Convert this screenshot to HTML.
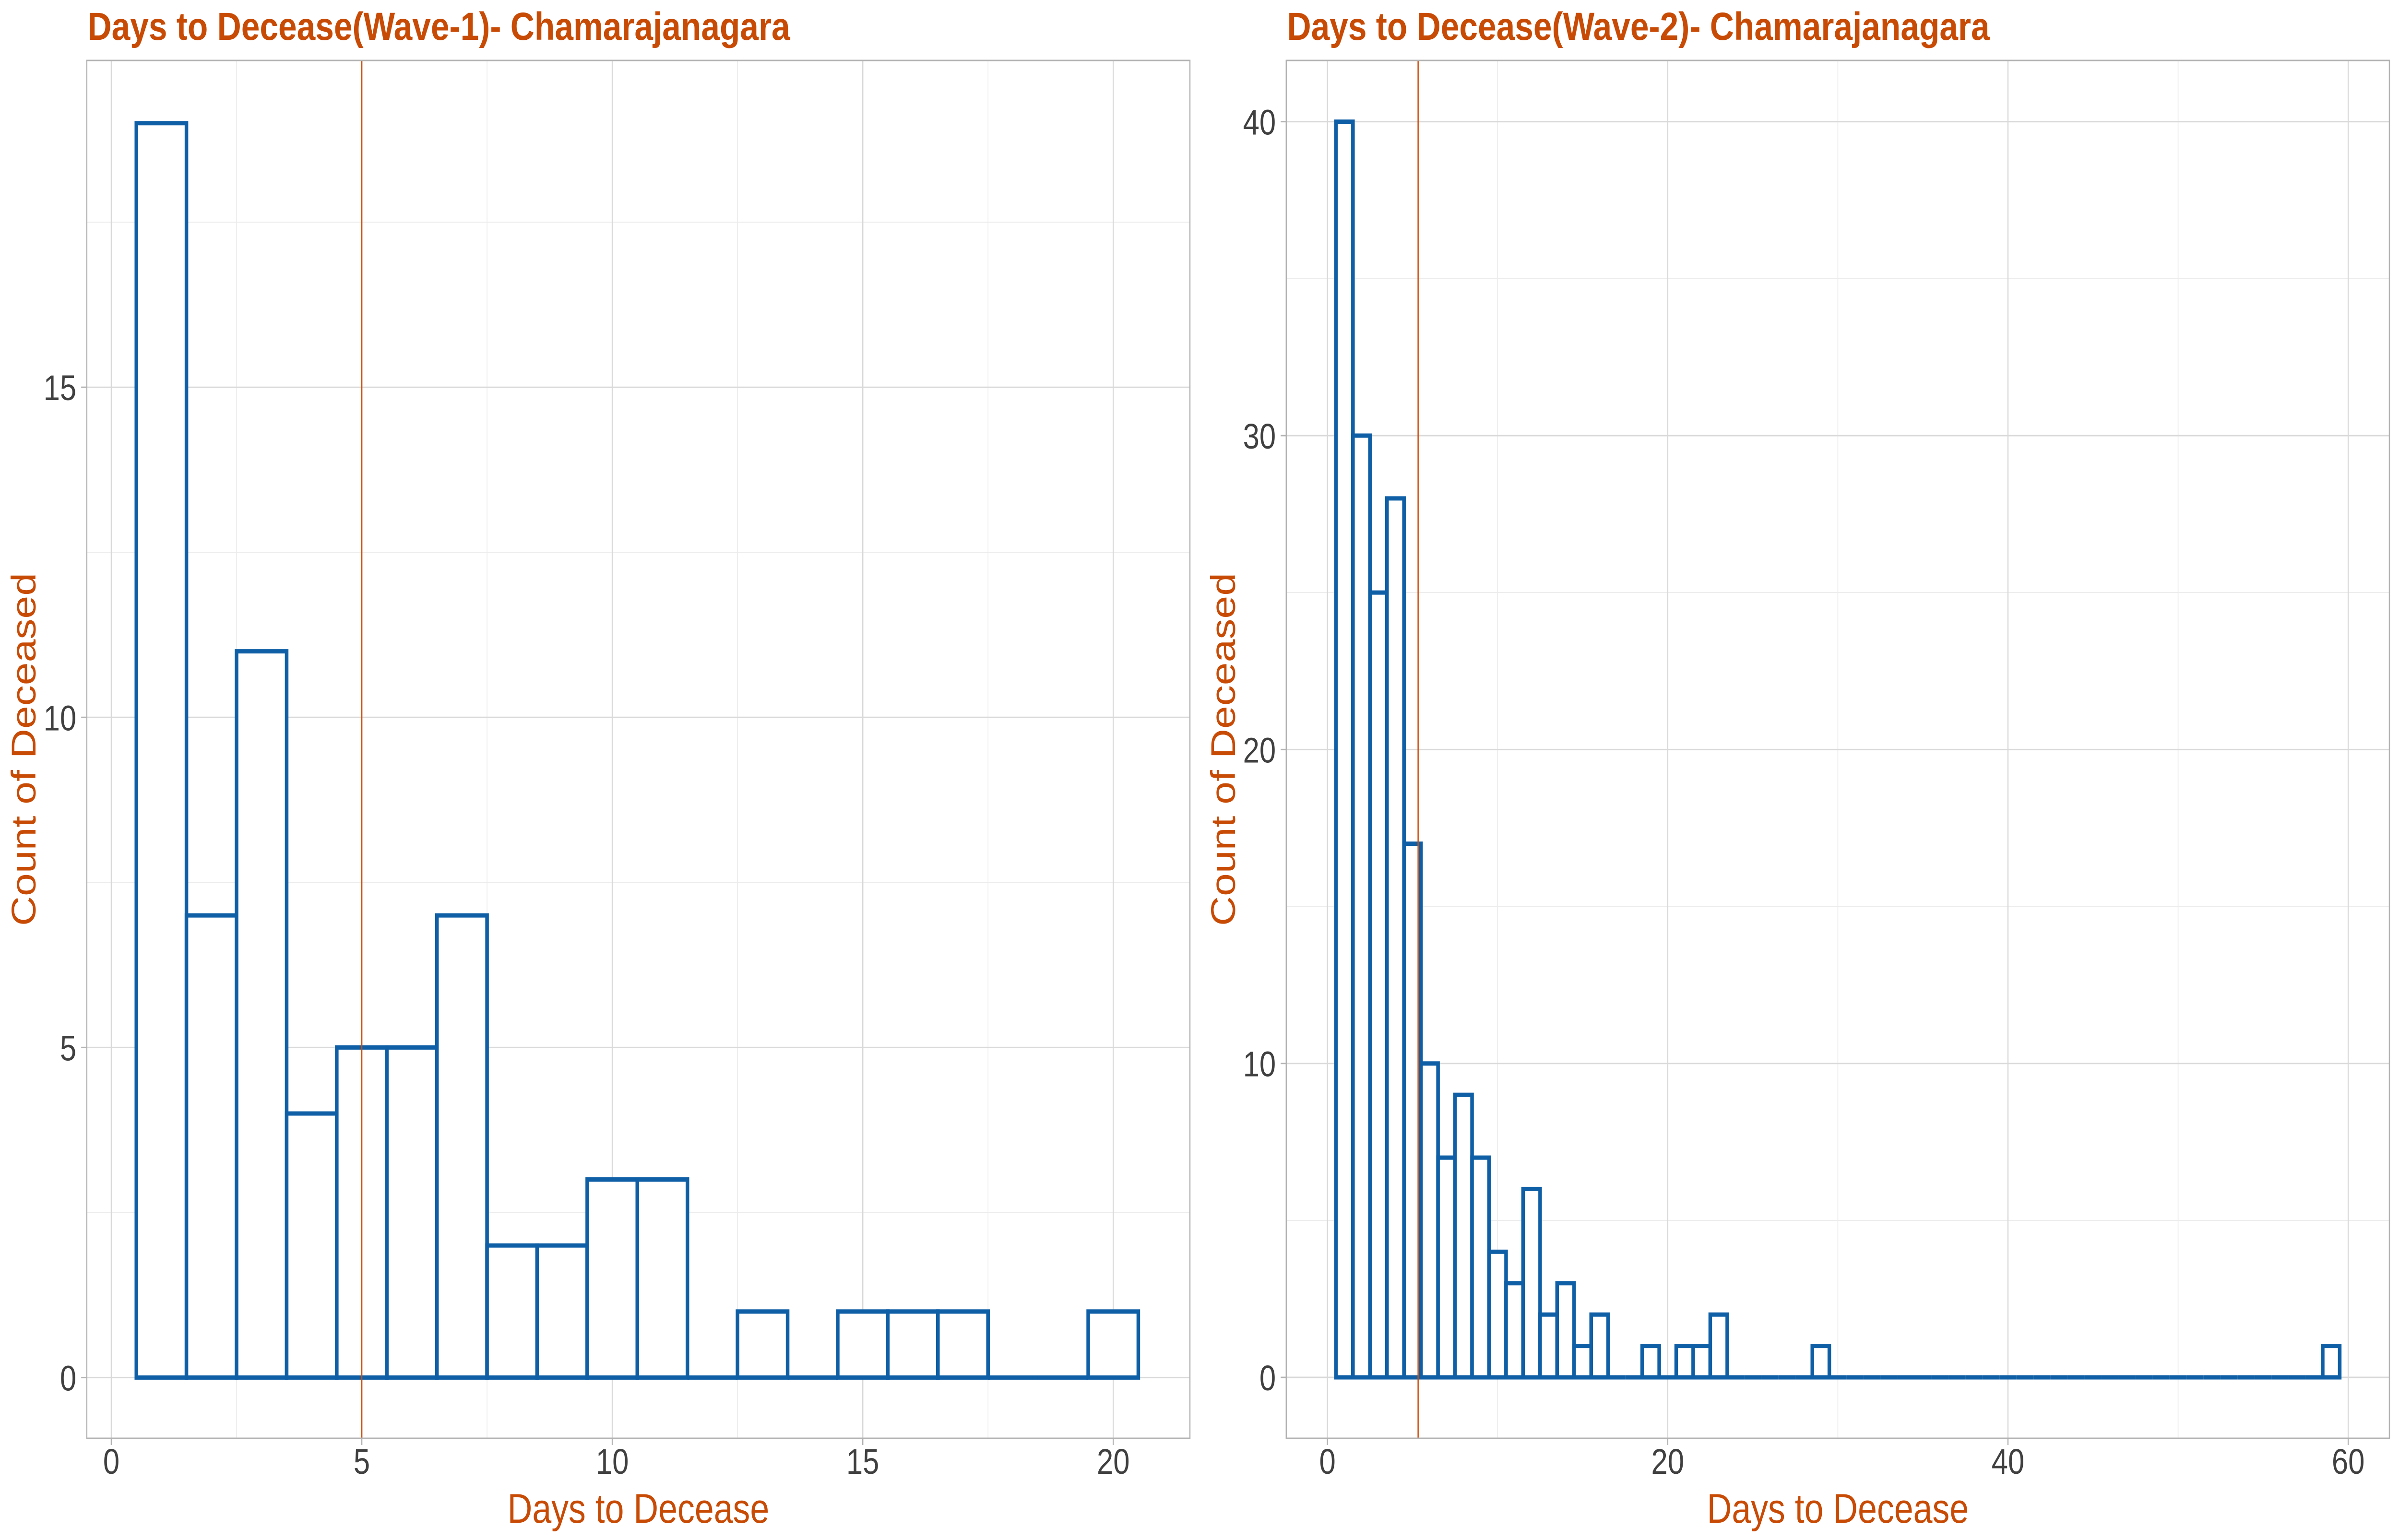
<!DOCTYPE html>
<html><head><meta charset="utf-8"><style>html,body{margin:0;padding:0;background:#fff;overflow:hidden;width:100%;height:100%}svg{display:block;width:100vw;height:100vh}</style></head>
<body>
<svg id="chart" viewBox="0 0 6000 3210" preserveAspectRatio="none" xmlns="http://www.w3.org/2000/svg" font-family="'Liberation Sans', sans-serif"></svg>
<script>
const wave1Days = [1,2,3,4,5,6,7,8,9,10,11,12,13,14,15,16,17,18,19,20];
const wave1Counts = [19,7,11,4,5,5,7,2,2,3,3,0,1,0,1,1,1,0,0,1];
const wave1Mean = 5;
const wave1XTicks = [0,5,10,15,20];
const wave1YTicks = [0,5,10,15];

const wave2Days = [];
for (let d = 1; d <= 59; d++) wave2Days.push(d);
const wave2Nonzero = {1:40,2:30,3:25,4:28,5:17,6:10,7:7,8:9,9:7,10:4,11:3,12:6,13:2,14:3,15:1,16:2,19:1,21:1,22:1,23:2,29:1,59:1};
const wave2Counts = wave2Days.map(d => wave2Nonzero[d] || 0);
const wave2Mean = 5.33;
const wave2XTicks = [0,20,40,60];
const wave2YTicks = [0,10,20,30,40];

const NS = "http://www.w3.org/2000/svg";
const svg = document.getElementById("chart");
function mk(tag, attrs, parent) {
  const e = document.createElementNS(NS, tag);
  for (const k in attrs) e.setAttribute(k, attrs[k]);
  (parent || svg).appendChild(e);
  return e;
}

function panel(cfg) {
  const g = mk("g", {});
  
  
  const L = cfg.left, R = cfg.right, T = 126, B = 2998;
  const xs = v => L + (v - cfg.xmin) / (cfg.xmax - cfg.xmin) * (R - L);
  const ys = v => B - (v - cfg.ymin) / (cfg.ymax - cfg.ymin) * (B - T);
  cfg.xMinor.forEach(v => {
    const l = mk("line", {x1: xs(v), x2: xs(v), y1: T, y2: B, stroke: "#ececec", "stroke-width": 2}, g);
    
    
  });
  cfg.yMinor.forEach(v => {
    const l = mk("line", {x1: L, x2: R, y1: ys(v), y2: ys(v), stroke: "#ececec", "stroke-width": 2}, g);
    
    
  });
  cfg.xTicks.forEach(v => {
    const l = mk("line", {x1: xs(v), x2: xs(v), y1: T, y2: B, stroke: "#d9d9d9", "stroke-width": 3}, g);
    
    
    const t = mk("line", {x1: xs(v), x2: xs(v), y1: B, y2: B + 14, stroke: "#b3b3b3", "stroke-width": 3}, g);
    
    
    const tx = mk("text", {x: xs(v), y: 3072, "text-anchor": "middle", "font-size": 74, fill: "#404040"}, g);
    
    
    tx.textContent = v;
  });
  cfg.yTicks.forEach(v => {
    const l = mk("line", {x1: L, x2: R, y1: ys(v), y2: ys(v), stroke: "#d9d9d9", "stroke-width": 3}, g);
    
    
    const t = mk("line", {x1: L - 14, x2: L, y1: ys(v), y2: ys(v), stroke: "#b3b3b3", "stroke-width": 3}, g);
    
    
    const tx = mk("text", {x: L - 26, y: ys(v) + 27, "text-anchor": "end", "font-size": 74, fill: "#404040"}, g);
    
    
    tx.textContent = v;
  });
  cfg.days.forEach((d, i) => {
    const c = cfg.counts[i];
    const x0 = xs(d - 0.5), x1 = xs(d + 0.5), y0 = ys(0), y1 = ys(c);
    const p = mk("path", {d: "M" + x0 + " " + y0 + " V" + y1 + " H" + x1 + " V" + y0 + " Z", fill: "#ffffff", stroke: "#0f5fa6", "stroke-width": 9, "stroke-linecap": "square"}, g);
    
    
  });
  const ml = mk("line", {x1: xs(cfg.mean), x2: xs(cfg.mean), y1: T, y2: B, stroke: "#cc4c0a", "stroke-width": 3}, g);
  
  
  const bd = mk("rect", {x: L, y: T, width: R - L, height: B - T, fill: "none", stroke: "#b3b3b3", "stroke-width": 3}, g);
  
  
  const tt = mk("text", {x: L + 2, y: 83, "font-size": 82, "font-weight": "bold", fill: "#c84b05", textLength: 1757, lengthAdjust: "spacingAndGlyphs"}, g);
  
  
  tt.textContent = cfg.title;
  const xt = mk("text", {x: (L + R) / 2, y: 3174, "text-anchor": "middle", "font-size": 86, fill: "#c84b05"}, g);
  
  
  xt.textContent = "Days to Decease";
  const cy = (T + B) / 2;
  const yt = mk("text", {x: 0, y: 0, "text-anchor": "middle", "font-size": 86, fill: "#c84b05", transform: "translate(" + (L - 128) + "," + cy + ") rotate(-90)"}, g);
  
  
  yt.textContent = "Count of Deceased";
}

panel({name: "wave-1-panel", left: 217, right: 2976, xmin: -0.49, xmax: 21.53, ymin: -0.92, ymax: 19.95,
  xTicks: wave1XTicks, yTicks: wave1YTicks, xMinor: [2.5,7.5,12.5,17.5], yMinor: [2.5,7.5,12.5,17.5],
  days: wave1Days, counts: wave1Counts, mean: wave1Mean, title: "Days to Decease(Wave-1)- Chamarajanagara"});
panel({name: "wave-2-panel", left: 3217, right: 5976, xmin: -2.42, xmax: 62.42, ymin: -1.94, ymax: 41.95,
  xTicks: wave2XTicks, yTicks: wave2YTicks, xMinor: [10,30,50], yMinor: [5,15,25,35],
  days: wave2Days, counts: wave2Counts, mean: wave2Mean, title: "Days to Decease(Wave-2)- Chamarajanagara"});
</script>
</body></html>
